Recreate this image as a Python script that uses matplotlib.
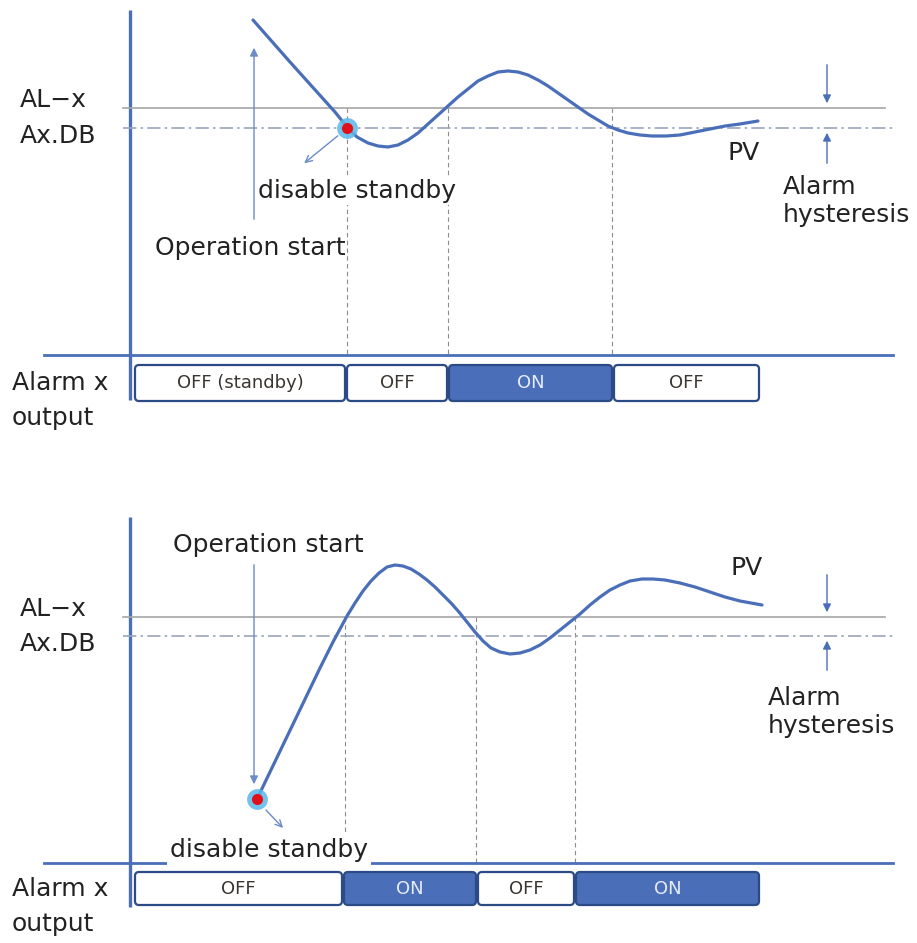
import matplotlib.pyplot as plt
from matplotlib.patches import FancyBboxPatch

# Diagrama en coordenadas de pixel (x a la derecha, y hacia abajo)
## DATOS ################################################################
# PV superior (arranque por encima del nivel de alarma)
top_pv_x = [253, 290, 335, 347, 357, 368, 378, 388, 398, 408, 418, 428, 438,
            448, 458, 468, 478, 488, 498, 508, 518, 528, 538, 548, 558, 568,
            578, 588, 598, 608, 618, 628, 640, 652, 666, 680, 695, 710, 725,
            740, 758]
top_pv_y = [20, 62, 112, 127, 137, 143, 146, 147, 145, 140, 133, 124, 115,
            106, 97, 89, 81, 76, 72, 71, 72, 75, 80, 86, 93, 100,
            107, 114, 120, 126, 130, 133, 135, 136, 136, 135, 132, 129, 126,
            124, 121]
# PV inferior (arranque por debajo)
bot_pv_x = [257, 295, 320, 333, 340, 347, 355, 363, 371, 379, 387, 395, 403, 411,
            419, 427, 435, 443, 451, 459, 467, 475, 483, 491, 500, 510, 520,
            530, 540, 550, 560, 570, 580, 590, 600, 610, 620, 630, 642, 653,
            665, 680, 695, 710, 725, 740, 762]
bot_pv_y = [799, 720, 668, 642, 629, 616, 603, 591, 581, 573, 567, 565, 566, 569,
            574, 580, 587, 595, 603, 612, 622, 632, 641, 648, 652, 654, 653,
            650, 645, 638, 630, 622, 614, 605, 597, 590, 585, 581, 579, 579,
            580, 583, 587, 592, 597, 601, 605]

# Salida de alarma: bordes de cada tramo y estado
top_edges = [134, 346, 448, 613, 760]
top_states = ["OFF (standby)", "OFF", "ON", "OFF"]
bot_edges = [134, 343, 477, 575, 760]
bot_states = ["OFF", "ON", "OFF", "ON"]

# Cruces marcados con lineas verticales punteadas
top_cross = [347, 448, 612]
bot_cross = [345, 476, 575]
#########################################################################

blue = "#4a6fb8"
dark = "#2c4a86"
grey = "#a6a6a6"
dashgrey = "#9aa6bb"

fig = plt.figure(figsize=(9.17, 9.43), dpi=100)
ax = fig.add_axes([0, 0, 1, 1])
ax.set_xlim(0, 917)
ax.set_ylim(943, 0)
ax.axis("off")

fs = 18


def panel(y0, y_axis_top, y_axis_bot, y_al, y_db, pv_x, pv_y, cross, edges, states,
          y_box0, y_box1, hyst_top, hyst_bot, pv_lbl, alarm_x, alarm_y):
    # ejes
    ax.plot([130, 130], [y_axis_top, y_axis_bot], color=blue, lw=2.4, solid_capstyle="butt")
    ax.plot([44, 893], [y0, y0], color=blue, lw=2.0, zorder=1)
    # niveles AL-x y Ax.DB
    ax.plot([123, 885], [y_al, y_al], color=grey, lw=1.2)
    ax.plot([123, 893], [y_db, y_db], color=dashgrey, lw=1.2, dashes=(8, 2.5, 1.5, 2.5))
    ax.text(20, y_al - 8, "AL\u2212x", fontsize=fs, va="center", ha="left", color="#222222")
    ax.text(20, y_db + 8, "Ax.DB", fontsize=fs, va="center", ha="left", color="#222222")
    # cruces
    for xc in cross:
        ax.plot([xc, xc], [y_al, y0], color="#8c8c8c", lw=0.8, dashes=(4, 3), zorder=0.5)
    # PV
    ax.plot(pv_x, pv_y, color=blue, lw=2.3, solid_joinstyle="round",
            solid_capstyle="round", zorder=3)
    ax.text(pv_lbl[0], pv_lbl[1], "PV", fontsize=fs, ha="center", va="center", color="#222222")
    # histeresis
    ax.annotate("", xy=(827, y_al - 2), xytext=(827, hyst_top),
                arrowprops=dict(arrowstyle="-|>", color=blue, lw=1.0, mutation_scale=12))
    ax.annotate("", xy=(827, y_db + 2), xytext=(827, hyst_bot),
                arrowprops=dict(arrowstyle="-|>", color=blue, lw=1.0, mutation_scale=12))
    ax.text(alarm_x, alarm_y, "Alarm", fontsize=fs, ha="left", va="center", color="#222222")
    ax.text(alarm_x, alarm_y + 28, "hysteresis", fontsize=fs, ha="left", va="center",
            color="#222222")
    # salida de alarma
    ax.text(12, (y_box0 + y_box1) / 2, "Alarm x", fontsize=fs, ha="left", va="center",
            color="#222222")
    ax.text(12, (y_box0 + y_box1) / 2 + 35, "output", fontsize=fs, ha="left", va="center",
            color="#222222")
    for i, st in enumerate(states):
        on = st == "ON"
        box = FancyBboxPatch((edges[i] + 1, y_box0), edges[i + 1] - edges[i] - 2,
                             y_box1 - y_box0, boxstyle="round,pad=0,rounding_size=4",
                             fc=blue if on else "white", ec=dark, lw=1.6, zorder=2)
        ax.add_patch(box)
        ax.text((edges[i] + edges[i + 1]) / 2, (y_box0 + y_box1) / 2, st, fontsize=13,
                ha="center", va="center", color="#e6ecf7" if on else "#3a3530", zorder=3)


def red_dot(x, y):
    ax.plot(x, y, "o", ms=15, color="#5ab8ea", mec="none", alpha=0.85, zorder=4)
    ax.plot(x, y, "o", ms=8, color="#e0101a", mec="none", zorder=5)


# panel superior
panel(355, 10, 400, 108, 128, top_pv_x, top_pv_y, top_cross, top_edges, top_states,
      365, 401, 62, 166, (744, 153), 783, 187)
ax.annotate("", xy=(254, 45), xytext=(254, 222),
            arrowprops=dict(arrowstyle="-|>", color="#6b8bc9", lw=1.0, mutation_scale=12))
ax.annotate("", xy=(302, 165), xytext=(340, 134),
            arrowprops=dict(arrowstyle="->", color="#6b8bc9", lw=1.0, mutation_scale=12))
red_dot(347, 128)
ax.text(258, 191, "disable standby", fontsize=fs, ha="left", va="center", color="#222222",
        bbox=dict(fc="white", ec="none", pad=1), zorder=2)
ax.text(155, 248, "Operation start", fontsize=fs, ha="left", va="center", color="#222222")

# panel inferior
panel(863, 517, 907, 617, 636, bot_pv_x, bot_pv_y, bot_cross, bot_edges, bot_states,
      872, 905, 572, 673, (747, 568), 768, 698)
ax.annotate("", xy=(254, 787), xytext=(254, 562),
            arrowprops=dict(arrowstyle="-|>", color="#6b8bc9", lw=1.0, mutation_scale=12))
ax.annotate("", xy=(285, 830), xytext=(264, 808),
            arrowprops=dict(arrowstyle="->", color="#6b8bc9", lw=1.0, mutation_scale=12))
red_dot(257, 799)
ax.text(173, 545, "Operation start", fontsize=fs, ha="left", va="center", color="#222222")
ax.text(170, 850, "disable standby", fontsize=fs, ha="left", va="center", color="#222222",
        bbox=dict(fc="white", ec="none", pad=2), zorder=2)

fig.savefig("out.png", dpi=100)
